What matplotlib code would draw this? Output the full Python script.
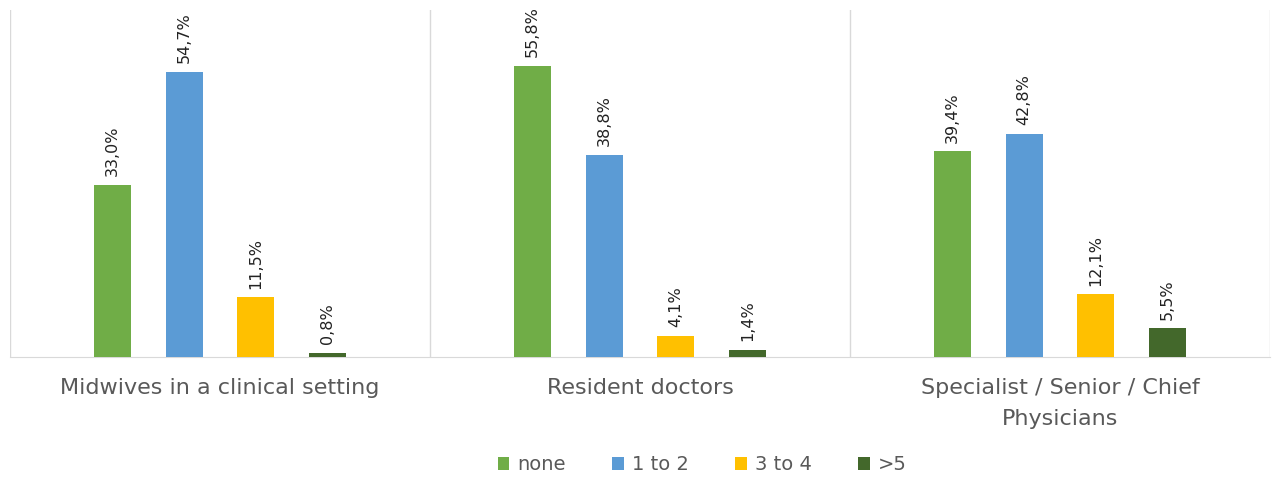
import numpy as np
import matplotlib.pyplot as plt

# survey groups and share of answers per category (%)
groups = ["Midwives in a clinical setting", "Resident doctors",
          "Specialist / Senior / Chief\nPhysicians"]
series = ["none", "1 to 2", "3 to 4", ">5"]
none_vals = [33.0, 55.8, 39.4]
one_two_vals = [54.7, 38.8, 42.8]
three_four_vals = [11.5, 4.1, 12.1]
over_five_vals = [0.8, 1.4, 5.5]
colors = ["#70AD47", "#5B9BD5", "#FFC000", "#43682B"]

values = [none_vals, one_two_vals, three_four_vals, over_five_vals]

fig = plt.figure(figsize=(12.78, 4.79), dpi=100)
ax = fig.add_axes([10 / 1278, 122 / 479, 1260 / 1278, 347 / 479])

x = np.arange(len(groups))
step = 0.171
width = 0.088
for i, (name, vals, c) in enumerate(zip(series, values, colors)):
    pos = x + (i - 1.5) * step
    bars = ax.bar(pos, vals, width, color=c, label=name, zorder=3)
    for b, v in zip(bars, vals):
        ax.annotate(f"{v:.1f}%".replace(".", ","),
                    (b.get_x() + b.get_width() / 2, v),
                    xytext=(0, 6), textcoords="offset points",
                    rotation=90, ha="center", va="bottom", fontsize=11.5,
                    color="#222222")

ax.set_xlim(-0.5, 2.5)
ax.set_ylim(0, 66.5)

# category separators like an Excel chart
for xs in [-0.5, 0.5, 1.5, 2.5]:
    ax.axvline(xs, color="#D9D9D9", lw=1, zorder=1)

for s in ["top", "left", "right"]:
    ax.spines[s].set_visible(False)
ax.spines["bottom"].set_color("#D9D9D9")
ax.set_yticks([])
ax.set_xticks(x)
ax.set_xticklabels(groups, fontsize=16, color="#595959", linespacing=1.7)
ax.tick_params(axis="x", length=0, pad=15)

leg = fig.legend(loc="center", bbox_to_anchor=(702 / 1278, 14 / 479), ncol=4,
                 frameon=False, fontsize=14, handlelength=0.6,
                 handleheight=0.6, columnspacing=2.4, handletextpad=0.4)
for t in leg.get_texts():
    t.set_color("#595959")

fig.savefig("out.png", dpi=100)
